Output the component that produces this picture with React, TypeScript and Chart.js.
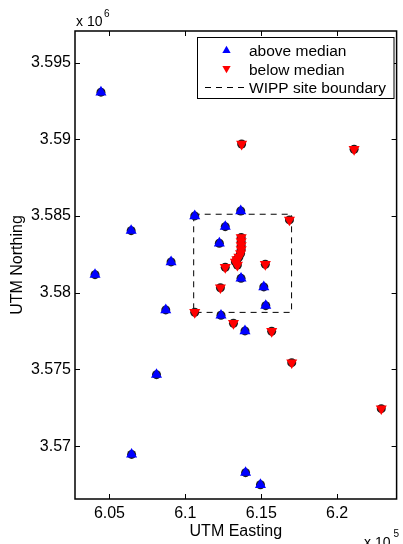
import React, { useEffect, useRef } from 'react';
import { Chart, registerables } from 'chart.js';

Chart.register(...registerables);

// ---- data (UTM metres) ----
const aboveEasting = [604440, 606430, 604050, 609060, 608710, 610620, 608100, 606460, 613650, 612630, 612240, 613670, 615170, 615300, 612350, 613930, 613970, 614950];
const aboveNorthing = [3593080, 3584050, 3581180, 3582010, 3578880, 3585010, 3574660, 3569460, 3585330, 3584310, 3583230, 3580940, 3580380, 3579160, 3578530, 3577510, 3568270, 3567480];

const belowEasting = [613710, 621120, 616860, 613680, 613680, 613680, 613680, 613640, 613530, 613400, 613300, 613430, 612630, 615270, 612310, 613170, 615690, 610620, 617010, 622910];
const belowNorthing = [3589700, 3589360, 3584750, 3583600, 3583340, 3583080, 3582820, 3582560, 3582330, 3582170, 3582010, 3581810, 3581660, 3581860, 3580330, 3578010, 3577490, 3578730, 3575440, 3572440];

const boundaryEasting = [610550, 617000, 617000, 610550, 610550];
const boundaryNorthing = [3585120, 3585120, 3578720, 3578720, 3585120];

const eastingTicks = [605000, 610000, 615000, 620000];
const eastingTickLabels = ['6.05', '6.1', '6.15', '6.2'];
const northingTicks = [3570000, 3575000, 3580000, 3585000, 3590000, 3595000];
const northingTickLabels = ['3.57', '3.575', '3.58', '3.585', '3.59', '3.595'];

const eastingRange = [602730, 623920];
const northingRange = [3566550, 3597070];

const legendLabels = ['above median', 'below median', 'WIPP site boundary'];
const xTitle = 'UTM Easting';
const yTitle = 'UTM Northing';

const FONT = '"Liberation Sans", Arial, Helvetica, sans-serif';
const BLUE = '#0000ff';
const RED = '#ff0000';

const pts = (xs: number[], ys: number[]) => xs.map((x, i) => ({ x, y: ys[i] }));

function tri(ctx: CanvasRenderingContext2D, x: number, y: number, r: number, down: boolean) {
  const s = down ? -1 : 1;
  ctx.beginPath();
  ctx.moveTo(x, y - s * r);
  ctx.lineTo(x + r * Math.sqrt(3) / 2, y + s * r / 2);
  ctx.lineTo(x - r * Math.sqrt(3) / 2, y + s * r / 2);
  ctx.closePath();
  ctx.fill();
}

const framePlugin = {
  id: 'matlabFrame',
  afterDraw(chart: any) {
    const { ctx, chartArea, scales } = chart;
    const { left, right, top, bottom } = chartArea;
    const xs = scales.x;
    const ys = scales.y;
    ctx.save();
    ctx.strokeStyle = '#000';
    ctx.lineWidth = 1;
    const tl = 5;
    ctx.beginPath();
    xs.ticks.forEach((t: any) => {
      const p = Math.round(xs.getPixelForValue(t.value)) + 0.5;
      ctx.moveTo(p, bottom); ctx.lineTo(p, bottom - tl);
      ctx.moveTo(p, top); ctx.lineTo(p, top + tl);
    });
    ys.ticks.forEach((t: any) => {
      const p = Math.round(ys.getPixelForValue(t.value)) + 0.5;
      ctx.moveTo(left, p); ctx.lineTo(left + tl, p);
      ctx.moveTo(right, p); ctx.lineTo(right - tl, p);
    });
    ctx.stroke();
    ctx.lineWidth = 1.5;
    ctx.strokeRect(left, top, right - left, bottom - top);

    // exponent labels
    ctx.fillStyle = '#000';
    ctx.textBaseline = 'alphabetic';
    ctx.textAlign = 'left';
    ctx.font = `14px ${FONT}`;
    ctx.fillText('x 10', left + 1, 25.5);
    ctx.font = `10px ${FONT}`;
    ctx.fillText('6', left + 29, 17);
    ctx.font = `14px ${FONT}`;
    ctx.fillText('x 10', 364, 547);
    ctx.font = `10px ${FONT}`;
    ctx.fillText('5', 393.5, 537);

    // legend
    const lx = 197.5, ly = 37.5, lw = 196.5, lh = 61;
    ctx.fillStyle = '#fff';
    ctx.fillRect(lx, ly, lw, lh);
    ctx.lineWidth = 1;
    ctx.strokeStyle = '#000';
    ctx.strokeRect(lx, ly, lw, lh);
    const mx = 226.5;
    ctx.fillStyle = BLUE;
    tri(ctx, mx, 50.5, 4.8, false);
    ctx.fillStyle = RED;
    tri(ctx, mx, 68.5, 4.8, true);
    ctx.setLineDash([6, 5]);
    ctx.beginPath();
    ctx.moveTo(205, 87.5);
    ctx.lineTo(244, 87.5);
    ctx.stroke();
    ctx.setLineDash([]);
    ctx.fillStyle = '#000';
    ctx.font = `15.5px ${FONT}`;
    ctx.fillText(legendLabels[0], 249, 56);
    ctx.fillText(legendLabels[1], 249, 74.5);
    ctx.fillText(legendLabels[2], 249, 93);
    ctx.restore();
  },
};

export default function App() {
  const ref = useRef<HTMLCanvasElement>(null);
  useEffect(() => {
    document.body.style.margin = '0';
    const canvas = ref.current!;
    const chart = new Chart(canvas, {
      type: 'scatter',
      data: {
        datasets: [
          {
            label: legendLabels[0],
            data: pts(aboveEasting, aboveNorthing),
            pointStyle: 'triangle',
            pointRadius: 6.4,
            backgroundColor: BLUE,
            borderWidth: 0,
            order: 0,
          },
          {
            label: legendLabels[1],
            data: pts(belowEasting, belowNorthing),
            pointStyle: 'triangle',
            rotation: 180,
            pointRadius: 6.4,
            backgroundColor: RED,
            borderWidth: 0,
            order: 0,
          },
          {
            label: 'outline-above',
            data: pts(aboveEasting, aboveNorthing),
            pointStyle: 'circle',
            pointRadius: 4.5,
            backgroundColor: '#1c1c1c',
            borderWidth: 0,
            order: 1,
          },
          {
            label: 'outline-below',
            data: pts(belowEasting, belowNorthing),
            pointStyle: 'circle',
            pointRadius: 4.5,
            backgroundColor: '#1c1c1c',
            borderWidth: 0,
            order: 1,
          },
          {
            label: legendLabels[2],
            data: pts(boundaryEasting, boundaryNorthing),
            showLine: true,
            pointRadius: 0,
            borderColor: '#000',
            borderWidth: 1,
            borderDash: [6, 5],
            fill: false,
            order: 2,
          } as any,
        ],
      },
      options: {
        animation: false,
        responsive: false,
        devicePixelRatio: 1,
        layout: { padding: { top: 31, right: 2, left: 0, bottom: 0 } },
        plugins: { legend: { display: false }, tooltip: { enabled: false } },
        events: [],
        scales: {
          x: {
            type: 'linear',
            min: eastingRange[0],
            max: eastingRange[1],
            afterBuildTicks: (s: any) => {
              s.ticks = eastingTicks.map((v) => ({ value: v }));
            },
            afterFit: (s: any) => {
              s.height = 45;
            },
            ticks: {
              callback: (v: any) => eastingTickLabels[eastingTicks.indexOf(v)] ?? '',
              font: { family: FONT, size: 16 },
              color: '#000',
              padding: 5,
              maxRotation: 0,
              autoSkip: false,
            },
            grid: { display: false, drawTicks: false },
            border: { display: false },
            title: {
              display: true,
              text: xTitle,
              color: '#000',
              font: { family: FONT, size: 16 },
              padding: { top: 0, bottom: 2.6 },
            },
          },
          y: {
            type: 'linear',
            min: northingRange[0],
            max: northingRange[1],
            afterBuildTicks: (s: any) => {
              s.ticks = northingTicks.map((v) => ({ value: v }));
            },
            afterFit: (s: any) => {
              s.width = 75;
            },
            ticks: {
              callback: (v: any) => northingTickLabels[northingTicks.indexOf(v)] ?? '',
              font: { family: FONT, size: 16 },
              color: '#000',
              padding: 4,
              autoSkip: false,
            },
            grid: { display: false, drawTicks: false },
            border: { display: false },
            title: {
              display: true,
              text: yTitle,
              color: '#000',
              font: { family: FONT, size: 16 },
              padding: { top: 8.4, bottom: 0 },
            },
          },
        },
      },
      plugins: [framePlugin],
    } as any);
    return () => chart.destroy();
  }, []);
  return (
    <div style={{ width: 403, height: 544, background: '#fff' }}>
      <canvas ref={ref} width={403} height={544} style={{ display: 'block' }} />
    </div>
  );
}
